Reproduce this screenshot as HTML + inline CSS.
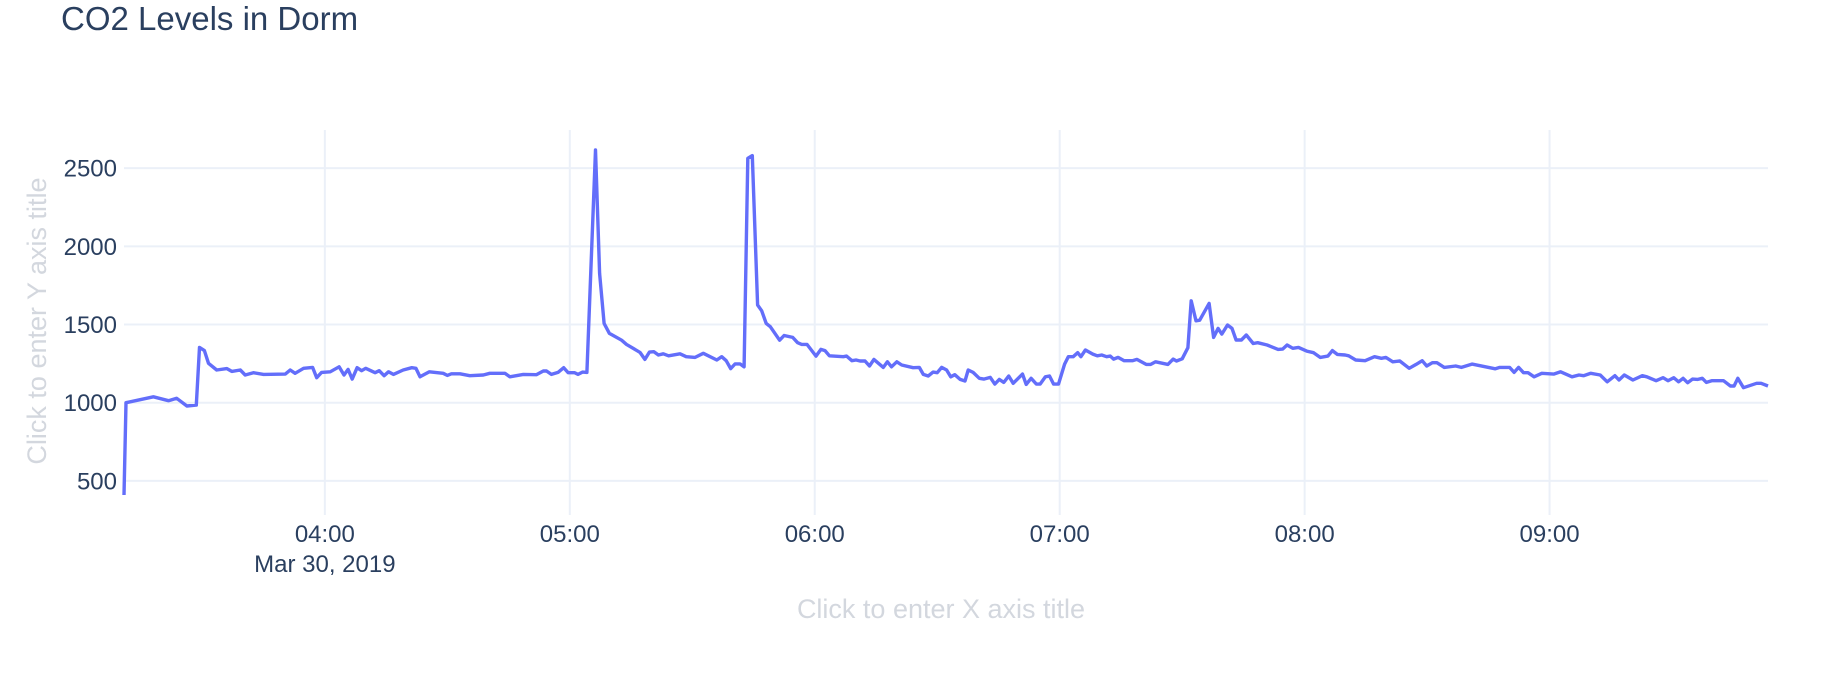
<!DOCTYPE html>
<html><head><meta charset="utf-8"><style>
html,body{margin:0;padding:0;background:#fff;}
svg{display:block;font-family:"Liberation Sans",sans-serif;}
</style></head><body>
<svg id="chart" width="1838" height="682" viewBox="0 0 1838 682">
<text x="61" y="30" font-size="33" fill="#2a3f5f">CO2 Levels in Dorm</text>
<g id="grid"></g>
<g id="ticks"></g>
<path id="line" fill="none" stroke="#636efa" stroke-width="3.4" stroke-linejoin="round"></path>
<text x="941" y="618" font-size="27" fill="#d3d7de" text-anchor="middle">Click to enter X axis title</text>
<text transform="translate(46,321) rotate(-90)" font-size="27" fill="#d3d7de" text-anchor="middle">Click to enter Y axis title</text>
</svg>
<script>
// minutes since 03:00 on Mar 30, 2019
const times = [10.8,11.3,18,21.7,23.7,26.2,28.5,29.3,30.5,31.5,33.5,36,37.2,39.3,40.5,42.5,45,50.3,51.5,52.7,54.8,57,58,59.2,61.3,63.5,64.7,65.7,66.7,67.9,69,70,72.3,73.3,74.5,75.6,76.8,79.2,81.3,82.3,83.3,85.6,89,90,91,93.1,95.5,98.8,100.4,104.1,105.3,108.6,111.8,113.5,114.3,115.5,117.1,118.5,119.6,121.2,122,123.1,124.2,126.3,127.3,128.4,129.7,132.7,133.9,137.2,138.4,139.5,140.6,141.7,142.9,144.2,147,148.5,150.7,152.7,156,157.2,158.3,159.4,160.5,161.7,162.7,163.6,164.7,166,167,168.1,169.1,171.4,172.5,174.6,175.8,176.8,178.1,180.3,181.5,182.5,183.6,187,187.8,189.1,190.1,191.1,192.3,193.4,194.5,196.8,197.8,198.8,200.1,201.3,204.1,205.6,206.6,207.8,209,210,211.1,212.3,213.3,214.3,215.6,216.8,217.6,218.8,220.3,221.4,223,224.1,225.2,226.3,227.5,228.6,230.9,231.8,233,234.3,235.2,236.5,237.5,238.5,239.7,241.2,242.1,243.3,244.4,245.2,246.3,248.1,249.2,250.3,251.5,252.4,253.2,254.3,255.8,257.8,258.9,261.2,262.3,263.5,266.5,267.8,268.6,270,271.4,272.2,273.4,274.3,276.6,277.7,278.8,279.7,281.1,282.2,283.2,284.5,285.7,287.4,288.5,290.8,293.5,294.6,295.7,297.1,298.5,300.5,302.2,303.8,305.7,306.8,308,309.9,310.8,312.5,314.8,317.1,318.8,319.9,321.6,323.3,325.6,327.3,328.8,329.9,331.3,332.4,334.2,337,338.4,341,346.7,347.8,350.2,351.3,352.4,353.6,354.7,356.2,358.1,361,362.7,365.5,367.2,368.3,370.1,372.4,374.1,376,377,378.3,380.4,382.7,383.8,386.1,387.8,389,390.4,391.6,392.7,393.8,395,396.3,397.4,398.4,399.7,402.6,404.3,405.2,406.1,407.5,410.7,411.8,413.5];
const co2 = [410,1000,1038,1013,1028,979,985,1354,1333,1252,1209,1218,1200,1209,1177,1192,1181,1183,1209,1188,1220,1226,1160,1194,1198,1230,1177,1213,1151,1224,1205,1220,1192,1205,1173,1198,1181,1209,1224,1220,1166,1198,1188,1175,1185,1185,1173,1177,1188,1188,1166,1181,1179,1203,1203,1181,1194,1224,1192,1192,1181,1196,1194,2616,1827,1507,1443,1400,1373,1322,1277,1324,1326,1305,1313,1300,1313,1294,1290,1316,1273,1294,1269,1218,1248,1248,1230,2563,2580,1625,1588,1507,1486,1400,1430,1418,1384,1373,1373,1298,1341,1333,1300,1294,1298,1269,1273,1267,1267,1235,1277,1226,1262,1230,1262,1241,1224,1226,1181,1171,1196,1192,1226,1209,1166,1179,1149,1139,1209,1194,1156,1151,1162,1119,1149,1130,1171,1124,1183,1117,1156,1119,1119,1166,1171,1119,1119,1247,1294,1294,1320,1294,1337,1311,1300,1305,1294,1298,1279,1290,1269,1269,1277,1245,1245,1262,1245,1279,1267,1281,1352,1652,1524,1528,1635,1418,1475,1439,1497,1475,1401,1401,1433,1379,1384,1369,1341,1343,1369,1348,1354,1330,1320,1290,1298,1333,1309,1305,1300,1273,1269,1294,1284,1290,1262,1267,1220,1245,1269,1235,1256,1256,1226,1235,1226,1247,1217,1226,1226,1194,1226,1192,1192,1166,1188,1183,1198,1166,1177,1173,1188,1177,1134,1173,1145,1177,1145,1173,1166,1141,1160,1141,1160,1134,1156,1128,1151,1149,1156,1130,1141,1141,1107,1107,1156,1096,1124,1124,1107];
const yTicks = [500,1000,1500,2000,2500];
const xTickMinutes = [60,120,180,240,300,360];
const xTickLabels = ["04:00","05:00","06:00","07:00","08:00","09:00"];

const NS="http://www.w3.org/2000/svg";
const L=124,R=1768,T=130,B=515;
const tMin=10.8,tMax=413.5,vMin=282,vMax=2744;
const xs=t=>L+(t-tMin)/(tMax-tMin)*(R-L);
const ys=v=>B-(v-vMin)/(vMax-vMin)*(B-T);
const grid=document.getElementById('grid'),ticks=document.getElementById('ticks');
function mk(tag,attrs,parent){const e=document.createElementNS(NS,tag);for(const k in attrs)e.setAttribute(k,attrs[k]);parent.appendChild(e);return e;}
yTicks.forEach(v=>{
  const g=mk('line',{x1:L,x2:R,y1:ys(v),y2:ys(v),stroke:'#ebf0f8','stroke-width':2},grid);
  
  
  const t=mk('text',{x:117,y:ys(v)+8.5,'font-size':24,fill:'#2a3f5f','text-anchor':'end'},ticks);
  t.textContent=v;
  
  
});
xTickMinutes.forEach((m,i)=>{
  const x=xs(m);
  const g=mk('line',{x1:x,x2:x,y1:T,y2:B,stroke:'#ebf0f8','stroke-width':2},grid);
  
  
  const t=mk('text',{x:x,y:542,'font-size':24,fill:'#2a3f5f','text-anchor':'middle'},ticks);
  t.textContent=xTickLabels[i];
  
  
});
const d=mk('text',{x:xs(60),y:572,'font-size':24,fill:'#2a3f5f','text-anchor':'middle'},ticks);
d.textContent='Mar 30, 2019';


document.getElementById('line').setAttribute('d',times.map((t,i)=>(i?'L':'M')+xs(t).toFixed(1)+' '+ys(co2[i]).toFixed(1)).join(' '));
</script>
</body></html>
